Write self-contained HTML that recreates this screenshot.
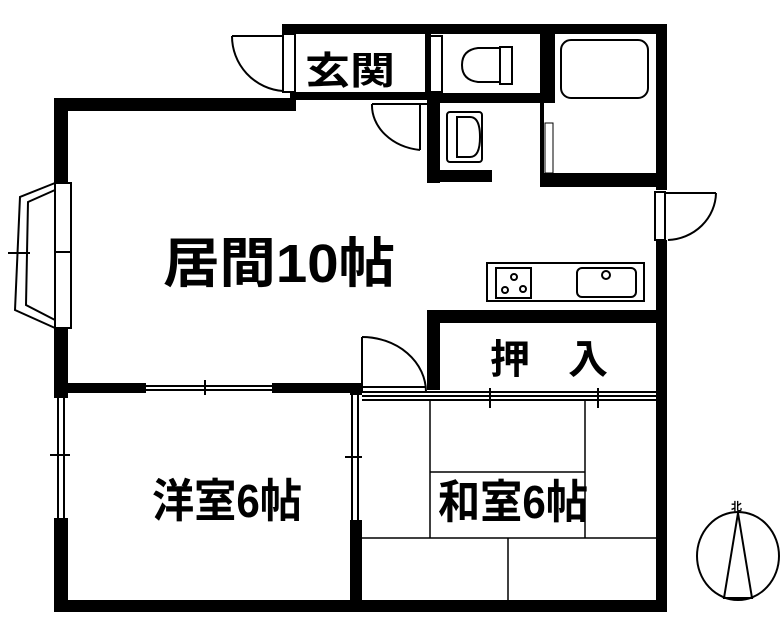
<!DOCTYPE html>
<html><head><meta charset="utf-8"><style>
html,body{margin:0;padding:0;background:#fff;}
svg{display:block}
text{font-family:"Liberation Sans","Noto Sans CJK JP",sans-serif;font-weight:bold;fill:#000}
</style></head><body>
<svg width="783" height="640" viewBox="0 0 783 640" xmlns="http://www.w3.org/2000/svg">
<g fill="#000">
<rect x="282" y="24" width="385" height="10"/>
<rect x="656" y="24" width="11" height="166"/>
<rect x="656" y="240" width="11" height="372"/>
<rect x="54" y="98" width="242" height="13"/>
<rect x="290" y="92" width="140" height="8"/>
<rect x="54" y="98" width="14" height="85"/>
<rect x="54" y="328" width="14" height="70"/>
<rect x="54" y="518" width="14" height="94"/>
<rect x="54" y="600" width="613" height="12"/>
<rect x="54" y="383" width="92" height="10"/>
<rect x="272" y="383" width="90" height="10"/>
<rect x="350" y="383" width="12" height="12"/>
<rect x="350" y="520" width="12" height="92"/>
<rect x="427" y="93" width="128" height="10"/>
<rect x="427" y="93" width="13" height="90"/>
<rect x="427" y="170" width="65" height="12"/>
<rect x="540" y="24" width="15" height="79"/>
<rect x="540" y="173" width="127" height="14"/>
<rect x="540" y="103" width="4" height="70"/>
<rect x="427" y="310" width="240" height="13"/>
<rect x="427" y="310" width="13" height="80"/>
<rect x="425" y="30" width="6" height="63"/>
</g>
<g fill="none" stroke="#000" stroke-width="2">
<rect x="283" y="34" width="12" height="58"/>
<line x1="232" y1="36" x2="283" y2="36"/>
<path d="M232 36 A55 55 0 0 0 283 91"/>
<rect x="430" y="36" width="12" height="56"/>
<line x1="372" y1="104" x2="427" y2="104"/>
<path d="M372 104 A55 45 0 0 0 420 150"/>
<line x1="420" y1="104" x2="420" y2="150"/>
<rect x="55" y="183" width="16" height="145"/>
<line x1="55" y1="252" x2="71" y2="252"/>
<path d="M55 183 L20 197 L15 310 L55 328"/>
<path d="M55 190 L28 202 L26 305 L55 320"/>
<line x1="8" y1="253" x2="30" y2="253"/>
<line x1="146" y1="386" x2="272" y2="386"/>
<line x1="146" y1="390" x2="272" y2="390"/>
<line x1="205" y1="380" x2="205" y2="395"/>
<path d="M478 48 L500 48 L500 82 L478 82 Q462 80 462 65 Q462 50 478 48Z"/>
<rect x="500" y="47" width="12" height="37"/>
<rect x="561" y="40" width="87" height="58" rx="10"/>
<rect x="447" y="112" width="35" height="50" rx="3"/>
<path d="M457 117 L470 117 Q480 117 480 137 Q480 157 470 157 L457 157Z"/>
<rect x="545" y="123" width="8" height="50" stroke-width="1"/>
<rect x="655" y="192" width="10" height="48"/>
<path d="M668 240 A50 48 0 0 0 716 193"/>
<line x1="666" y1="193" x2="716" y2="193"/>
<rect x="487" y="263" width="157" height="38"/>
<rect x="496" y="268" width="35" height="30"/>
<circle cx="514" cy="277" r="3"/><circle cx="505" cy="290" r="3"/><circle cx="523" cy="289" r="3"/>
<rect x="577" y="268" width="59" height="29" rx="5"/>
<circle cx="606" cy="275" r="4"/>
<line x1="362" y1="337" x2="362" y2="392"/>
<path d="M362 337 A64 55 0 0 1 426 392"/>
<line x1="362" y1="387" x2="426" y2="387"/>
<line x1="362" y1="392" x2="656" y2="392"/>
<line x1="362" y1="396" x2="656" y2="396"/>
<line x1="362" y1="400" x2="656" y2="400"/>
<line x1="490" y1="388" x2="490" y2="408"/>
<line x1="598" y1="388" x2="598" y2="408"/>
<line x1="58" y1="398" x2="58" y2="518"/>
<line x1="64" y1="398" x2="64" y2="518"/>
<line x1="50" y1="455" x2="70" y2="455"/>
<line x1="352" y1="395" x2="352" y2="520"/>
<line x1="358" y1="395" x2="358" y2="520"/>
<line x1="345" y1="457" x2="362" y2="457"/>
<line x1="660" y1="400" x2="660" y2="520" stroke-width="1"/>
<line x1="430" y1="400" x2="430" y2="538" stroke-width="1.5"/>
<line x1="585" y1="400" x2="585" y2="538" stroke-width="1.5"/>
<line x1="430" y1="472" x2="585" y2="472" stroke-width="1.5"/>
<line x1="362" y1="538" x2="656" y2="538" stroke-width="1.5"/>
<line x1="508" y1="538" x2="508" y2="600" stroke-width="1.5"/>
<ellipse cx="738" cy="556" rx="41" ry="44"/>
<path d="M738 513 L724 598 L752 598 Z"/>
</g>
<text x="305" y="84" font-size="38" textLength="90" lengthAdjust="spacingAndGlyphs">玄関</text>
<text x="163" y="282" font-size="54" textLength="232" lengthAdjust="spacingAndGlyphs">居間10帖</text>
<text x="490" y="373" font-size="40">押</text>
<text x="568" y="373" font-size="40">入</text>
<text x="152" y="517" font-size="46" textLength="150" lengthAdjust="spacingAndGlyphs">洋室6帖</text>
<text x="438" y="518" font-size="46" textLength="150" lengthAdjust="spacingAndGlyphs">和室6帖</text>
<text x="731" y="510" font-size="11" font-weight="normal">北</text>
</svg>
</body></html>
